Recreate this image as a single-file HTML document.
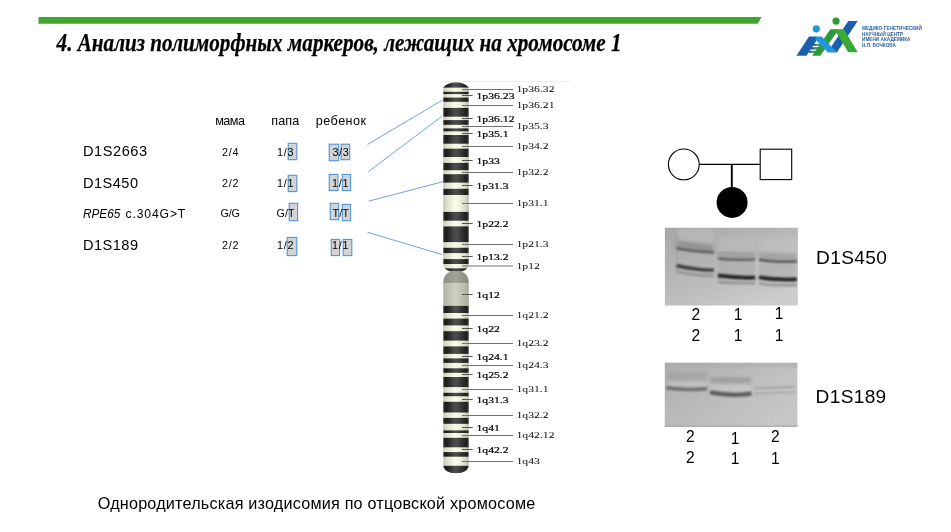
<!DOCTYPE html>
<html><head><meta charset="utf-8"><title>slide</title>
<style>
html,body{margin:0;padding:0;background:#fff;}
body{width:951px;height:532px;overflow:hidden;position:relative;font-family:"Liberation Sans", sans-serif;}
svg{position:absolute;left:0;top:0;opacity:0.999;}
svg text{font-family:"Liberation Sans", sans-serif;fill:#000;}
svg text.cl{font-family:"Liberation Serif", serif;font-size:8.6px;fill:#000;stroke:#000;stroke-width:0.2px;}
svg text.co{stroke-width:0.05px;fill:#1a1a1a;}
svg text.ttl{font-family:"Liberation Serif", serif;font-weight:bold;font-style:italic;fill:#000;stroke:#000;stroke-width:0.25px;}
</style></head><body>
<svg width="951" height="532" viewBox="0 0 951 532">
<polygon points="38.5,17 761.6,17 757.7,23.8 38.5,23.8" fill="#3fa62e"/>
<text class="ttl" x="56.6" y="50.6" font-size="24.5" textLength="565" lengthAdjust="spacingAndGlyphs">4. Анализ полиморфных маркеров, лежащих на хромосоме 1</text>
<polygon points="827.50,52.30 837.00,52.30 857.70,21.10 848.30,21.10" fill="#1b5fad"/>
<polygon points="812.10,55.70 820.30,55.70 838.90,29.30 830.40,29.30" fill="#2f9a3c"/>
<rect x="813.06" y="43.9" width="3.79" height="1.90" fill="#1b5fad"/>
<rect x="816.85" y="43.9" width="3.79" height="1.90" fill="#2f9a3c"/>
<rect x="810.80" y="47.1" width="3.72" height="2.40" fill="#1b5fad"/>
<rect x="814.52" y="47.1" width="3.72" height="2.40" fill="#2f9a3c"/>
<rect x="808.51" y="50.8" width="3.65" height="2.00" fill="#1b5fad"/>
<rect x="812.16" y="50.8" width="3.65" height="2.00" fill="#2f9a3c"/>
<polygon points="796.40,55.70 806.40,55.70 816.40,40.50 816.40,36.60 809.05,36.60" fill="#1b5fad"/>
<polygon points="815.00,36.60 821.70,36.60 837.00,52.30 827.70,52.30 816.40,40.50" fill="#2196dc"/>
<polygon points="834.20,29.30 844.00,29.30 857.70,52.30 848.30,52.30" fill="#3aa935"/>
<circle cx="816.3" cy="28.8" r="3.6" fill="#2196dc"/>
<circle cx="836.05" cy="21.1" r="3.6" fill="#2f9a3c"/>
<text x="862" y="29.5" font-size="4.6" font-weight="bold" style="fill:#2a62a8" textLength="59.8" lengthAdjust="spacingAndGlyphs">МЕДИКО-ГЕНЕТИЧЕСКИЙ</text>
<text x="862" y="35.5" font-size="4.6" font-weight="bold" style="fill:#2a62a8" textLength="41" lengthAdjust="spacingAndGlyphs">НАУЧНЫЙ ЦЕНТР</text>
<text x="862" y="41.0" font-size="4.6" font-weight="bold" style="fill:#2a62a8" textLength="48.5" lengthAdjust="spacingAndGlyphs">ИМЕНИ АКАДЕМИКА</text>
<text x="862" y="46.6" font-size="4.6" font-weight="bold" style="fill:#2a62a8" textLength="33.8" lengthAdjust="spacingAndGlyphs">Н.П. БОЧКОВА</text>
<line x1="439.5" y1="81.5" x2="572" y2="81.5" stroke="#ececec" stroke-width="1"/>
<line x1="367.5" y1="144.5" x2="442.2" y2="100.2" stroke="#5b9bd5" stroke-width="0.9"/>
<line x1="368.5" y1="171.5" x2="442.2" y2="116.1" stroke="#5b9bd5" stroke-width="0.9"/>
<line x1="368.5" y1="201.2" x2="444.5" y2="181.3" stroke="#5b9bd5" stroke-width="0.9"/>
<line x1="367.5" y1="232.3" x2="442.2" y2="254.6" stroke="#5b9bd5" stroke-width="0.9"/>
<defs>
<linearGradient id="gl" x1="0" x2="1" y1="0" y2="0"><stop offset="0" stop-color="#bfbfb0"/><stop offset="0.12" stop-color="#dcdccb"/><stop offset="0.45" stop-color="#fafae8"/><stop offset="0.6" stop-color="#f6f6e4"/><stop offset="0.88" stop-color="#d8d8c8"/><stop offset="1" stop-color="#b4b4a6"/></linearGradient>
<linearGradient id="gd" x1="0" x2="1" y1="0" y2="0"><stop offset="0" stop-color="#2c2c2c"/><stop offset="0.12" stop-color="#1c1c1c"/><stop offset="0.45" stop-color="#4c4c4c"/><stop offset="0.55" stop-color="#4a4a4a"/><stop offset="0.9" stop-color="#1e1e1e"/><stop offset="1" stop-color="#383838"/></linearGradient>
<linearGradient id="gg1" x1="0" x2="1" y1="0" y2="0"><stop offset="0" stop-color="#8e8f82"/><stop offset="0.5" stop-color="#a2a395"/><stop offset="1" stop-color="#8a8b7e"/></linearGradient>
<linearGradient id="gg2" x1="0" x2="1" y1="0" y2="0"><stop offset="0" stop-color="#b4b5a6"/><stop offset="0.5" stop-color="#cfd0bf"/><stop offset="1" stop-color="#adae9f"/></linearGradient>
<clipPath id="cp"><path d="M443.2 87.4 A18.6 18.6 0 0 1 468.8 87.4 L468.8 263.6 A9.8 8.2 0 0 1 459.0 271.8 L453.0 271.8 A9.8 8.2 0 0 1 443.2 263.6 Z"/></clipPath>
<clipPath id="cq"><path d="M443.2 282.4 A9.8 11 0 0 1 453.0 271.4 L459.0 271.4 A9.8 11 0 0 1 468.8 282.4 L468.8 465.3 A12 8 0 0 1 456.8 473.3 L455.2 473.3 A12 8 0 0 1 443.2 465.3 Z"/></clipPath>
</defs>
<g clip-path="url(#cp)">
<rect x="443.2" y="82.2" width="25.600000000000023" height="189.60000000000002" fill="url(#gl)"/>
<rect x="443.2" y="82.2" width="25.600000000000023" height="5.4" fill="url(#gd)"/>
<rect x="443.2" y="91.8" width="25.600000000000023" height="2.3" fill="url(#gd)"/>
<rect x="443.2" y="97.6" width="25.600000000000023" height="4.2" fill="url(#gd)"/>
<rect x="443.2" y="107.9" width="25.600000000000023" height="8.8" fill="url(#gd)"/>
<rect x="443.2" y="120.1" width="25.600000000000023" height="4.7" fill="url(#gd)"/>
<rect x="443.2" y="128.4" width="25.600000000000023" height="2.9" fill="url(#gd)"/>
<rect x="443.2" y="135" width="25.600000000000023" height="8.7" fill="url(#gd)"/>
<rect x="443.2" y="148.7" width="25.600000000000023" height="8.3" fill="url(#gd)"/>
<rect x="443.2" y="162.9" width="25.600000000000023" height="7.3" fill="url(#gd)"/>
<rect x="443.2" y="174.2" width="25.600000000000023" height="8.4" fill="url(#gd)"/>
<rect x="443.2" y="188.8" width="25.600000000000023" height="6.2" fill="url(#gd)"/>
<rect x="443.2" y="211.9" width="25.600000000000023" height="8.8" fill="url(#gd)"/>
<rect x="443.2" y="226.4" width="25.600000000000023" height="15.7" fill="url(#gd)"/>
<rect x="443.2" y="247.8" width="25.600000000000023" height="5.3" fill="url(#gd)"/>
<rect x="443.2" y="259.1" width="25.600000000000023" height="4.9" fill="url(#gd)"/>
<rect x="443.2" y="268.3" width="25.600000000000023" height="3.7" fill="url(#gd)"/>
</g>
<g clip-path="url(#cq)">
<rect x="443.2" y="271.4" width="25.600000000000023" height="201.90000000000003" fill="url(#gl)"/>
<rect x="443.2" y="271.4" width="25.600000000000023" height="12.0" fill="url(#gg1)"/>
<rect x="443.2" y="283.4" width="25.600000000000023" height="22.8" fill="url(#gg2)"/>
<rect x="443.2" y="305.9" width="25.600000000000023" height="7.1" fill="url(#gd)"/>
<rect x="443.2" y="318.6" width="25.600000000000023" height="6.8" fill="url(#gd)"/>
<rect x="443.2" y="331.2" width="25.600000000000023" height="9.4" fill="url(#gd)"/>
<rect x="443.2" y="346.4" width="25.600000000000023" height="7.5" fill="url(#gd)"/>
<rect x="443.2" y="358.4" width="25.600000000000023" height="4.5" fill="url(#gd)"/>
<rect x="443.2" y="368.3" width="25.600000000000023" height="4.5" fill="url(#gd)"/>
<rect x="443.2" y="377.0" width="25.600000000000023" height="10.1" fill="url(#gd)"/>
<rect x="443.2" y="392.8" width="25.600000000000023" height="3.4" fill="url(#gd)"/>
<rect x="443.2" y="401.8" width="25.600000000000023" height="10.7" fill="url(#gd)"/>
<rect x="443.2" y="417.9" width="25.600000000000023" height="5.9" fill="url(#gd)"/>
<rect x="443.2" y="430.4" width="25.600000000000023" height="2.6" fill="url(#gd)"/>
<rect x="443.2" y="437.8" width="25.600000000000023" height="9.5" fill="url(#gd)"/>
<rect x="443.2" y="452.1" width="25.600000000000023" height="4.6" fill="url(#gd)"/>
<rect x="443.2" y="465.8" width="25.600000000000023" height="7.8" fill="url(#gd)"/>
</g>
<line x1="462" y1="89.5" x2="513" y2="89.5" stroke="#707070" stroke-width="1"/>
<text x="516.5" y="92.4" class="cl co" textLength="38.0" lengthAdjust="spacingAndGlyphs">1p36.32</text>
<line x1="462" y1="95.5" x2="472.7" y2="95.5" stroke="#555" stroke-width="1"/>
<text x="476.5" y="98.7" class="cl" textLength="38.0" lengthAdjust="spacingAndGlyphs">1p36.23</text>
<line x1="462" y1="105.5" x2="513" y2="105.5" stroke="#707070" stroke-width="1"/>
<text x="516.5" y="108.4" class="cl co" textLength="38.0" lengthAdjust="spacingAndGlyphs">1p36.21</text>
<line x1="462" y1="118.5" x2="472.7" y2="118.5" stroke="#555" stroke-width="1"/>
<text x="476.5" y="121.7" class="cl" textLength="38.0" lengthAdjust="spacingAndGlyphs">1p36.12</text>
<line x1="462" y1="126.5" x2="513" y2="126.5" stroke="#707070" stroke-width="1"/>
<text x="516.5" y="129.4" class="cl co" textLength="32.1" lengthAdjust="spacingAndGlyphs">1p35.3</text>
<line x1="462" y1="133.5" x2="472.7" y2="133.5" stroke="#555" stroke-width="1"/>
<text x="476.5" y="136.7" class="cl" textLength="32.1" lengthAdjust="spacingAndGlyphs">1p35.1</text>
<line x1="462" y1="146.5" x2="513" y2="146.5" stroke="#707070" stroke-width="1"/>
<text x="516.5" y="149.4" class="cl co" textLength="32.1" lengthAdjust="spacingAndGlyphs">1p34.2</text>
<line x1="462" y1="160.5" x2="472.7" y2="160.5" stroke="#555" stroke-width="1"/>
<text x="476.5" y="163.7" class="cl" textLength="23.4" lengthAdjust="spacingAndGlyphs">1p33</text>
<line x1="462" y1="172.5" x2="513" y2="172.5" stroke="#707070" stroke-width="1"/>
<text x="516.5" y="175.4" class="cl co" textLength="32.1" lengthAdjust="spacingAndGlyphs">1p32.2</text>
<line x1="462" y1="185.5" x2="472.7" y2="185.5" stroke="#555" stroke-width="1"/>
<text x="476.5" y="188.7" class="cl" textLength="32.1" lengthAdjust="spacingAndGlyphs">1p31.3</text>
<line x1="462" y1="203.5" x2="513" y2="203.5" stroke="#707070" stroke-width="1"/>
<text x="516.5" y="206.4" class="cl co" textLength="32.1" lengthAdjust="spacingAndGlyphs">1p31.1</text>
<line x1="462" y1="223.5" x2="472.7" y2="223.5" stroke="#555" stroke-width="1"/>
<text x="476.5" y="226.7" class="cl" textLength="32.1" lengthAdjust="spacingAndGlyphs">1p22.2</text>
<line x1="462" y1="244.5" x2="513" y2="244.5" stroke="#707070" stroke-width="1"/>
<text x="516.5" y="247.4" class="cl co" textLength="32.1" lengthAdjust="spacingAndGlyphs">1p21.3</text>
<line x1="462" y1="256.5" x2="472.7" y2="256.5" stroke="#555" stroke-width="1"/>
<text x="476.5" y="259.7" class="cl" textLength="32.1" lengthAdjust="spacingAndGlyphs">1p13.2</text>
<line x1="462" y1="266.0" x2="513" y2="266.0" stroke="#707070" stroke-width="1"/>
<text x="516.5" y="268.9" class="cl co" textLength="23.4" lengthAdjust="spacingAndGlyphs">1p12</text>
<line x1="462" y1="294.5" x2="472.7" y2="294.5" stroke="#555" stroke-width="1"/>
<text x="476.5" y="297.7" class="cl" textLength="23.4" lengthAdjust="spacingAndGlyphs">1q12</text>
<line x1="462" y1="315.5" x2="513" y2="315.5" stroke="#707070" stroke-width="1"/>
<text x="516.5" y="318.4" class="cl co" textLength="32.1" lengthAdjust="spacingAndGlyphs">1q21.2</text>
<line x1="462" y1="328.5" x2="472.7" y2="328.5" stroke="#555" stroke-width="1"/>
<text x="476.5" y="331.7" class="cl" textLength="23.4" lengthAdjust="spacingAndGlyphs">1q22</text>
<line x1="462" y1="343.5" x2="513" y2="343.5" stroke="#707070" stroke-width="1"/>
<text x="516.5" y="346.4" class="cl co" textLength="32.1" lengthAdjust="spacingAndGlyphs">1q23.2</text>
<line x1="462" y1="356.5" x2="472.7" y2="356.5" stroke="#555" stroke-width="1"/>
<text x="476.5" y="359.7" class="cl" textLength="32.1" lengthAdjust="spacingAndGlyphs">1q24.1</text>
<line x1="462" y1="365.5" x2="513" y2="365.5" stroke="#707070" stroke-width="1"/>
<text x="516.5" y="368.4" class="cl co" textLength="32.1" lengthAdjust="spacingAndGlyphs">1q24.3</text>
<line x1="462" y1="374.5" x2="472.7" y2="374.5" stroke="#555" stroke-width="1"/>
<text x="476.5" y="377.7" class="cl" textLength="32.1" lengthAdjust="spacingAndGlyphs">1q25.2</text>
<line x1="462" y1="389.5" x2="513" y2="389.5" stroke="#707070" stroke-width="1"/>
<text x="516.5" y="392.4" class="cl co" textLength="32.1" lengthAdjust="spacingAndGlyphs">1q31.1</text>
<line x1="462" y1="399.5" x2="472.7" y2="399.5" stroke="#555" stroke-width="1"/>
<text x="476.5" y="402.7" class="cl" textLength="32.1" lengthAdjust="spacingAndGlyphs">1q31.3</text>
<line x1="462" y1="415.5" x2="513" y2="415.5" stroke="#707070" stroke-width="1"/>
<text x="516.5" y="418.4" class="cl co" textLength="32.1" lengthAdjust="spacingAndGlyphs">1q32.2</text>
<line x1="462" y1="427.5" x2="472.7" y2="427.5" stroke="#555" stroke-width="1"/>
<text x="476.5" y="430.7" class="cl" textLength="23.4" lengthAdjust="spacingAndGlyphs">1q41</text>
<line x1="462" y1="435.5" x2="513" y2="435.5" stroke="#707070" stroke-width="1"/>
<text x="516.5" y="438.4" class="cl co" textLength="38.0" lengthAdjust="spacingAndGlyphs">1q42.12</text>
<line x1="462" y1="449.5" x2="472.7" y2="449.5" stroke="#555" stroke-width="1"/>
<text x="476.5" y="452.7" class="cl" textLength="32.1" lengthAdjust="spacingAndGlyphs">1q42.2</text>
<line x1="462" y1="461.5" x2="513" y2="461.5" stroke="#707070" stroke-width="1"/>
<text x="516.5" y="464.4" class="cl co" textLength="23.4" lengthAdjust="spacingAndGlyphs">1q43</text>
<rect x="288.2" y="143.3" width="8.6" height="16.4" fill="#d4d4d4" stroke="#4f95d8" stroke-width="1.1"/>
<rect x="329.2" y="144.2" width="9.5" height="16.5" fill="#d4d4d4" stroke="#4f95d8" stroke-width="1.1"/>
<rect x="341.2" y="144.2" width="8.5" height="15.5" fill="#d4d4d4" stroke="#4f95d8" stroke-width="1.1"/>
<rect x="288.2" y="175.3" width="8.6" height="16.3" fill="#d4d4d4" stroke="#4f95d8" stroke-width="1.1"/>
<rect x="329.2" y="174.4" width="8.7" height="16.2" fill="#d4d4d4" stroke="#4f95d8" stroke-width="1.1"/>
<rect x="342.3" y="174.4" width="8.3" height="16.2" fill="#d4d4d4" stroke="#4f95d8" stroke-width="1.1"/>
<rect x="289.2" y="203.3" width="8.4" height="17.4" fill="#d4d4d4" stroke="#4f95d8" stroke-width="1.1"/>
<rect x="330.2" y="203.3" width="8.5" height="16.4" fill="#d4d4d4" stroke="#4f95d8" stroke-width="1.1"/>
<rect x="342.3" y="204.4" width="8.3" height="16.3" fill="#d4d4d4" stroke="#4f95d8" stroke-width="1.1"/>
<rect x="287.2" y="237.4" width="9.6" height="18.2" fill="#d4d4d4" stroke="#4f95d8" stroke-width="1.1"/>
<rect x="331.3" y="239.4" width="8.4" height="16.2" fill="#d4d4d4" stroke="#4f95d8" stroke-width="1.1"/>
<rect x="343.2" y="239.4" width="8.6" height="16.2" fill="#d4d4d4" stroke="#4f95d8" stroke-width="1.1"/>
<text x="82.9" y="156.1" font-size="14.6" textLength="64.2" lengthAdjust="spacing" >D1S2663</text>
<text x="82.9" y="187.7" font-size="14.6" textLength="55.2" lengthAdjust="spacing" >D1S450</text>
<text x="82.9" y="217.7" font-size="12.2" font-style="italic" textLength="37.4" lengthAdjust="spacingAndGlyphs">RPE65</text>
<text x="125.6" y="217.7" font-size="12.2" textLength="59.7" lengthAdjust="spacing">c.304G&gt;T</text>
<text x="82.9" y="249.9" font-size="14.6" textLength="55.2" lengthAdjust="spacing" >D1S189</text>
<text x="215.2" y="124.5" font-size="12.6" textLength="29.8" lengthAdjust="spacing" >мама</text>
<text x="271.3" y="124.5" font-size="12.6" textLength="27.9" lengthAdjust="spacing" >папа</text>
<text x="315.8" y="124.5" font-size="12.6" textLength="50.2" lengthAdjust="spacing" >ребенок</text>
<text x="222.0" y="155.8" font-size="10.8" textLength="16.5" lengthAdjust="spacing" >2/4</text>
<text x="222.0" y="187.3" font-size="10.8" textLength="16.5" lengthAdjust="spacing" >2/2</text>
<text x="220.4" y="217.0" font-size="10.8" textLength="19.6" lengthAdjust="spacing" >G/G</text>
<text x="222.0" y="248.8" font-size="10.8" textLength="16.5" lengthAdjust="spacing" >2/2</text>
<text x="277.0" y="155.8" font-size="10.8" textLength="16.6" lengthAdjust="spacing" >1/3</text>
<text x="277.0" y="187.3" font-size="10.8" textLength="16.6" lengthAdjust="spacing" >1/1</text>
<text x="276.4" y="217.0" font-size="10.8" textLength="18.2" lengthAdjust="spacing" >G/T</text>
<text x="277.0" y="248.8" font-size="10.8" textLength="16.6" lengthAdjust="spacing" >1/2</text>
<text x="332.4" y="155.8" font-size="10.8" textLength="16.4" lengthAdjust="spacing" >3/3</text>
<text x="332.0" y="187.3" font-size="10.8" textLength="16.6" lengthAdjust="spacing" >1/1</text>
<text x="332.4" y="217.0" font-size="10.8" textLength="16.6" lengthAdjust="spacing" >T/T</text>
<text x="332.0" y="248.8" font-size="10.8" textLength="16.6" lengthAdjust="spacing" >1/1</text>
<circle cx="683.8" cy="164.4" r="15.4" fill="#fff" stroke="#000" stroke-width="1.1"/>
<rect x="760.2" y="149.2" width="31.5" height="30.4" fill="#fff" stroke="#000" stroke-width="1.1"/>
<line x1="699.4" y1="164.4" x2="760.2" y2="164.4" stroke="#000" stroke-width="1.1"/>
<line x1="731.8" y1="164.4" x2="731.8" y2="188" stroke="#000" stroke-width="1.9"/>
<circle cx="732.1" cy="202.4" r="15.5" fill="#000"/>
<defs>
<linearGradient id="g1bg" x1="0" y1="0" x2="0.7" y2="1"><stop offset="0" stop-color="#a6a6a6"/><stop offset="0.35" stop-color="#b3b3b3"/><stop offset="0.72" stop-color="#c2c2c2"/><stop offset="1" stop-color="#d0d0d0"/></linearGradient>
<linearGradient id="g2bg" x1="0" y1="0" x2="1" y2="0.6"><stop offset="0" stop-color="#aeaeae"/><stop offset="0.5" stop-color="#bdbdbd"/><stop offset="1" stop-color="#c8c8c8"/></linearGradient>
<filter id="b1" x="-20%" y="-300%" width="140%" height="700%"><feGaussianBlur stdDeviation="0.8"/></filter>
<filter id="b2" x="-20%" y="-200%" width="140%" height="500%"><feGaussianBlur stdDeviation="1.8"/></filter>
<filter id="b3" x="-20%" y="-200%" width="140%" height="500%"><feGaussianBlur stdDeviation="2.6 1.6"/></filter>
<filter id="nz" x="0" y="0" width="100%" height="100%"><feTurbulence type="fractalNoise" baseFrequency="0.35" numOctaves="3" seed="7" result="t"/><feColorMatrix type="matrix" values="0 0 0 0 0.45  0 0 0 0 0.45  0 0 0 0 0.45  0.9 0 0 0 -0.3"/></filter>
<clipPath id="cg1"><rect x="664.9" y="227.8" width="132.9" height="77.8"/></clipPath>
<clipPath id="cg2"><rect x="664.8" y="362.7" width="132.6" height="64.2"/></clipPath>
</defs>
<g clip-path="url(#cg1)">
<rect x="664" y="227" width="135" height="80" fill="url(#g1bg)"/>
<rect x="664" y="227" width="135" height="80" filter="url(#nz)" opacity="0.6"/>
<rect x="678" y="228" width="35" height="14" fill="#c6c6c6" opacity="0.4" filter="url(#b2)"/>
<rect x="678" y="254" width="35" height="10" fill="#c2c2c2" opacity="0.15" filter="url(#b2)"/>
<rect x="719" y="236" width="36" height="14" fill="#c4c4c4" opacity="0.3" filter="url(#b2)"/>
<rect x="719" y="263" width="36" height="10" fill="#c4c4c4" opacity="0.1" filter="url(#b2)"/>
<rect x="760" y="236" width="37" height="15" fill="#c8c8c8" opacity="0.3" filter="url(#b2)"/>
<rect x="760" y="265" width="37" height="10" fill="#c8c8c8" opacity="0.1" filter="url(#b2)"/>
<path d="M677 243.5 Q695 247.5 713.6 248.5" stroke="#858585" stroke-width="7" fill="none" opacity="0.65" filter="url(#b3)"/>
<path d="M718 254 Q736 256 755 255" stroke="#8c8c8c" stroke-width="7" fill="none" opacity="0.5" filter="url(#b3)"/>
<path d="M759 255 Q775 257.5 797 257" stroke="#8c8c8c" stroke-width="7" fill="none" opacity="0.5" filter="url(#b3)"/>
<rect x="718.5" y="262" width="36.5" height="12" fill="#989898" opacity="0.3" filter="url(#b2)"/>
<rect x="759.5" y="264" width="37" height="12" fill="#989898" opacity="0.3" filter="url(#b2)"/>
<rect x="677.5" y="254" width="36" height="10" fill="#a0a0a0" opacity="0.22" filter="url(#b2)"/>
<rect x="676.2" y="236" width="2" height="36" fill="#9a9a9a" opacity="0.5" filter="url(#b1)"/>
<rect x="756.5" y="250" width="1.6" height="36" fill="#d2d2d2" opacity="0.3" filter="url(#b1)"/>
<path d="M676.6 248.3 Q695 252 713.8 252.4" stroke="#565656" stroke-width="2.6" fill="none" filter="url(#b1)"/>
<path d="M676.6 265.6 Q695 269.8 713.8 270.2" stroke="#343434" stroke-width="3.2" fill="none" filter="url(#b1)"/>
<path d="M676.6 271.6 Q695 275.5 713.8 275.8" stroke="#8e8e8e" stroke-width="2.3" fill="none" filter="url(#b1)"/>
<path d="M717.8 258.5 Q736 260.5 755.2 259.2" stroke="#585858" stroke-width="2.6" fill="none" filter="url(#b1)"/>
<path d="M717.8 275.6 Q736 278.2 755.2 277.6" stroke="#222" stroke-width="4" fill="none" filter="url(#b1)"/>
<path d="M717.8 282 Q736 283.5 755.2 283" stroke="#8e8e8e" stroke-width="2.3" fill="none" filter="url(#b1)"/>
<path d="M759 259.6 Q775 262.4 796.8 261.4" stroke="#585858" stroke-width="2.6" fill="none" filter="url(#b1)"/>
<path d="M759 277.4 Q775 280 796.8 279.2" stroke="#222" stroke-width="4" fill="none" filter="url(#b1)"/>
<path d="M759 283.6 Q775 285.6 796.8 285" stroke="#8e8e8e" stroke-width="2.3" fill="none" filter="url(#b1)"/>
</g>
<g clip-path="url(#cg2)">
<rect x="664" y="362" width="135" height="66" fill="url(#g2bg)"/>
<rect x="664" y="362" width="135" height="66" filter="url(#nz)" opacity="0.6"/>
<rect x="664" y="362" width="135" height="5" fill="#a8a8a8" opacity="0.5" filter="url(#b2)"/>
<rect x="667" y="372.2" width="39.5" height="7.6" fill="#9a9a9a" opacity="0.5" filter="url(#b2)"/>
<rect x="711" y="377.2" width="40" height="6.2" fill="#8e8e8e" opacity="0.6" filter="url(#b2)"/>
<rect x="667" y="382" width="39.5" height="4.5" fill="#d2d2d2" opacity="0.42" filter="url(#b2)"/>
<rect x="711" y="385.5" width="40" height="5" fill="#d4d4d4" opacity="0.45" filter="url(#b2)"/>
<rect x="755.5" y="389.3" width="39" height="2.4" fill="#d6d6d6" opacity="0.6" filter="url(#b1)"/>
<path d="M666 387.8 Q686.5 390.8 707 388.8" stroke="#6e6e6e" stroke-width="3.4" fill="none" filter="url(#b1)"/>
<path d="M710 392.4 Q731 396.6 751.4 393.6" stroke="#5c5c5c" stroke-width="4.2" fill="none" filter="url(#b1)"/>
<path d="M754.8 388.4 Q775 388 795.1 387" stroke="#a0a0a0" stroke-width="1.8" fill="none" filter="url(#b1)"/>
<path d="M754.8 393 Q775 392.8 795.1 392" stroke="#a8a8a8" stroke-width="1.8" fill="none" filter="url(#b1)"/>
<rect x="664" y="425.4" width="135" height="1.6" fill="#a4a4a4" opacity="0.6"/>
<path d="M712 363 Q722 372 727 373 Q733 372 745 363" stroke="#a8a8a8" stroke-width="1" fill="none" opacity="0.6" filter="url(#b1)"/>
</g>
<text x="695.8" y="320.1" font-size="15.6" text-anchor="middle">2</text>
<text x="738" y="320.3" font-size="15.6" text-anchor="middle">1</text>
<text x="779.1" y="319.1" font-size="15.6" text-anchor="middle">1</text>
<text x="695.8" y="341.1" font-size="15.6" text-anchor="middle">2</text>
<text x="738" y="341.1" font-size="15.6" text-anchor="middle">1</text>
<text x="779.1" y="341.1" font-size="15.6" text-anchor="middle">1</text>
<text x="690.4" y="442.3" font-size="15.6" text-anchor="middle">2</text>
<text x="735.1" y="443.5" font-size="15.6" text-anchor="middle">1</text>
<text x="775.4" y="442.3" font-size="15.6" text-anchor="middle">2</text>
<text x="690.4" y="463.1" font-size="15.6" text-anchor="middle">2</text>
<text x="735.1" y="464.3" font-size="15.6" text-anchor="middle">1</text>
<text x="775.4" y="464.3" font-size="15.6" text-anchor="middle">1</text>
<text x="816.0" y="264.1" font-size="19.1" textLength="70.9" lengthAdjust="spacing" >D1S450</text>
<text x="815.6" y="403.1" font-size="19.1" textLength="70.6" lengthAdjust="spacing" >D1S189</text>
<text x="97.7" y="508.8" font-size="16.2" textLength="437.6" lengthAdjust="spacing">Однородительская изодисомия по отцовской хромосоме</text>
</svg>
</body></html>
